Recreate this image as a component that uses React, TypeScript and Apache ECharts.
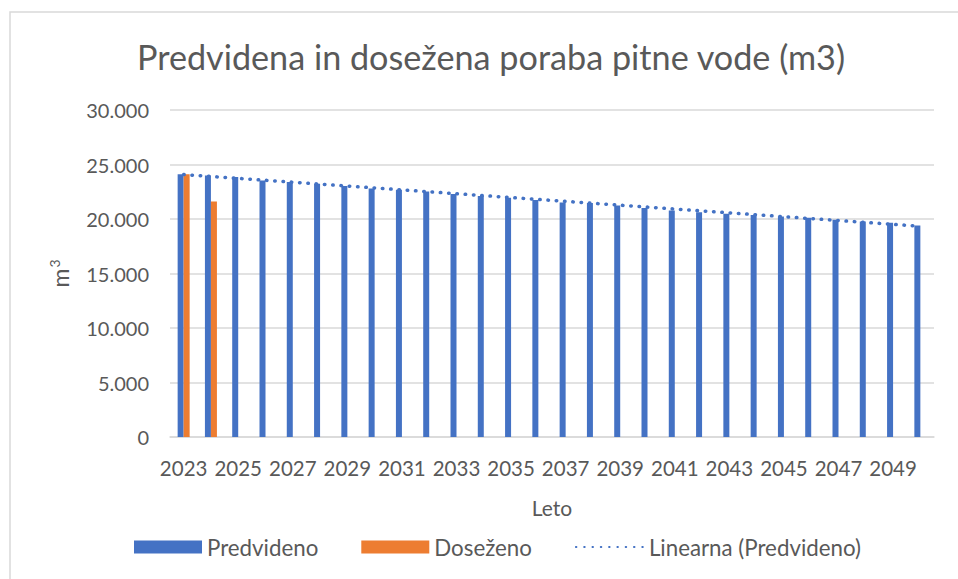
import React, { useEffect, useRef } from "react";
import * as echarts from "echarts";

const years: string[] = [
  "2023", "2024", "2025", "2026", "2027", "2028", "2029", "2030", "2031", "2032",
  "2033", "2034", "2035", "2036", "2037", "2038", "2039", "2040", "2041", "2042",
  "2043", "2044", "2045", "2046", "2047", "2048", "2049", "2050",
];

const predvideno: number[] = [
  24100, 24000, 23850, 23540, 23390, 23230, 23020, 22800, 22680, 22530,
  22290, 22100, 21950, 21740, 21510, 21460, 21240, 21000, 20780, 20630,
  20480, 20360, 20230, 20110, 19930, 19770, 19650, 19400,
];

const dosezeno: (number | null)[] = [
  24100, 21600, null, null, null, null, null, null, null, null,
  null, null, null, null, null, null, null, null, null, null,
  null, null, null, null, null, null, null, null,
];

const yTicks = { min: 0, max: 30000, interval: 5000 };

// Linear trend (least squares) of Predvideno, as Excel's trendline does
function linearTrend(values: number[]): number[] {
  const n = values.length;
  let sx = 0, sy = 0, sxx = 0, sxy = 0;
  values.forEach((v, i) => {
    const x = i + 1;
    sx += x; sy += v; sxx += x * x; sxy += x * v;
  });
  const b = (n * sxy - sx * sy) / (n * sxx - sx * sx);
  const a = (sy - b * sx) / n;
  return values.map((_, i) => a + b * (i + 1));
}

const FONT = "Lato";
const TEXT = "#595959";

export default function App() {
  const ref = useRef<HTMLDivElement>(null);
  useEffect(() => {
    document.body.style.margin = "0";
    if (!ref.current) return;
    const chart = echarts.init(ref.current, null, { renderer: "svg" });
    const trend = linearTrend(predvideno);
    chart.setOption({
      animation: false,
      backgroundColor: "#ffffff",
      textStyle: { fontFamily: FONT, color: TEXT },
      graphic: [
        {
          type: "rect",
          shape: { x: 10, y: 12, width: 980, height: 600 },
          style: { fill: "none", stroke: "#d9d9d9", lineWidth: 1.5 },
          silent: true,
          z: -10,
        },
      ],
      title: {
        text: "Predvidena in dosežena poraba pitne vode (m3)",
        left: 486,
        textAlign: "center",
        top: 34,
        textStyle: { fontFamily: FONT, fontSize: 34.2, fontWeight: "normal", color: TEXT },
      },
      legend: {
        bottom: 16,
        left: 129,
        itemWidth: 68,
        itemHeight: 13,
        itemGap: 43,
        textStyle: { fontFamily: FONT, fontSize: 22.3, color: TEXT },
        data: [
          { name: "Predvideno", icon: "rect" },
          { name: "Doseženo", icon: "rect" },
          { name: "Linearna (Predvideno)", itemStyle: { opacity: 0 } },
        ],
      },
      grid: { left: 170, right: 24, top: 110, bottom: 142, containLabel: false },
      xAxis: {
        type: "category",
        data: years,
        name: "Leto",
        nameLocation: "middle",
        nameGap: 60,
        nameTextStyle: { fontFamily: FONT, fontSize: 21, color: TEXT },
        axisLine: { lineStyle: { color: "#d9d9d9", width: 1.5 } },
        axisTick: { show: false },
        axisLabel: { interval: 1, margin: 20, fontFamily: FONT, fontSize: 20.5, color: TEXT },
      },
      yAxis: {
        type: "value",
        min: yTicks.min,
        max: yTicks.max,
        interval: yTicks.interval,
        name: "{m|m}{s|3}",
        nameLocation: "middle",
        nameGap: 97,
        nameRotate: 90,
        nameTextStyle: {
          fontFamily: FONT,
          fontSize: 22,
          color: TEXT,
          rich: {
            m: { fontFamily: FONT, fontSize: 23, color: TEXT, lineHeight: 26 },
            s: { fontFamily: FONT, fontSize: 14, color: TEXT, verticalAlign: "top", lineHeight: 26, padding: [0, 0, 12, 1] },
          },
        },
        axisLine: { show: false },
        axisTick: { show: false },
        splitLine: { lineStyle: { color: "#d9d9d9", width: 1.5 } },
        axisLabel: {
          margin: 21,
          fontFamily: FONT,
          fontSize: 20,
          color: TEXT,
          formatter: (v: number) => (v === 0 ? "0" : v.toLocaleString("de-DE")),
        },
      },
      series: [
        {
          name: "Predvideno",
          type: "bar",
          data: predvideno,
          barWidth: 6,
          barGap: "0%",
          itemStyle: { color: "#4472C4" },
        },
        {
          name: "Doseženo",
          type: "bar",
          data: dosezeno,
          barWidth: 6,
          barGap: "0%",
          itemStyle: { color: "#ED7D31" },
        },
        {
          name: "Linearna (Predvideno)",
          type: "line",
          data: trend,
          symbol: "none",
          z: 5,
          lineStyle: { color: "#4472C4", width: 3.5, type: [0.5, 7.8], cap: "round" },
          itemStyle: { color: "#4472C4" },
        },
      ],
    });
    return () => chart.dispose();
  }, []);
  return <div ref={ref} style={{ width: 958, height: 579 }} />;
}
